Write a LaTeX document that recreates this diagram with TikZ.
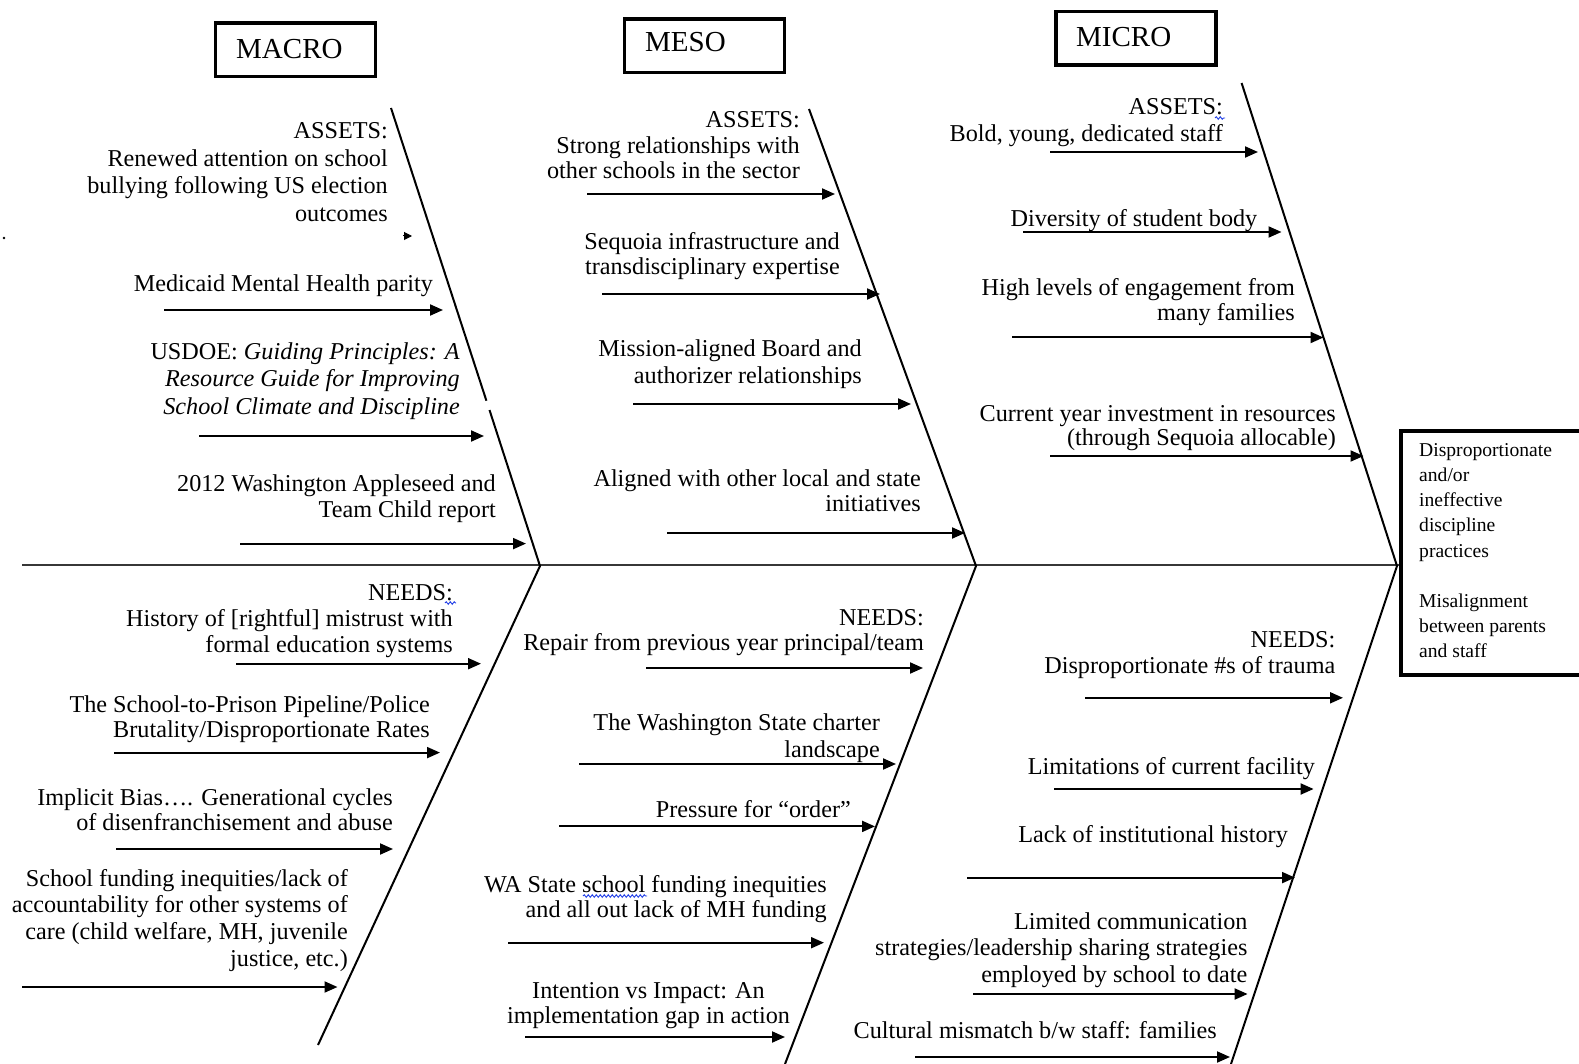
\documentclass[tikz,border=0pt]{standalone}
\usepackage{fontspec}
\setmainfont{Liberation Serif}
\usetikzlibrary{arrows.meta,decorations.pathmorphing}
\definecolor{squiggle}{RGB}{30,60,230}
\definecolor{spinecol}{RGB}{55,55,55}

\begin{document}
\begin{tikzpicture}[x=1pt,y=-1pt,
  % labels are placed by the baseline of their last line
  lbl/.style={font=\fontsize{24.2}{#1}\selectfont, inner sep=0pt, align=right, anchor=base east},
  lbl/.default=26,
  lvlbox/.style={draw, line width=3.5pt, minimum width=160pt, minimum height=53.5pt, inner sep=0pt},
  lvltext/.style={font=\fontsize{29}{34}\selectfont, inner sep=0pt, anchor=base west},
  cause/.style={line width=2pt, -{Triangle[length=13pt,width=11pt]}},
  bone/.style={line width=2pt},
  spine/.style={line width=2.6pt, draw=spinecol},
  wavy/.style={draw=squiggle, line width=0.9pt, decorate,
    decoration={snake, amplitude=1.3pt, segment length=4pt}}
]
\useasboundingbox (0,0) rectangle (1579,1064);
\clip (0,0) rectangle (1579,1064);

% ---------- level headers ----------
\node[lvlbox] (macro) at (295.7,49.6) {};
\node[lvltext] (macrot) at (236,59) {MACRO};
\node[lvlbox] (meso) at (704.5,45.7) {};
\node[lvltext] (mesot) at (645,52) {MESO};
\node[lvlbox] (micro) at (1136,38.5) {};
\node[lvltext] (microt) at (1076,46.4) {MICRO};

% ---------- effect box ----------
\node[draw, line width=4pt, anchor=north west, minimum width=220pt, minimum height=244pt, inner sep=0pt]
  (effect) at (1399,429) {};
\node[font=\fontsize{19.6}{25.2}\selectfont, inner sep=0pt, align=left, anchor=base west]
  (effecttxt) at (1419,657.8)
  {Disproportionate\\and/or\\ineffective\\discipline\\practices\\[25.2pt]Misalignment\\between parents\\and staff};

% ---------- spine ----------
\coordinate (tail) at (22,565);
\draw[spine] (tail) -- (tail -| effect.west);

% ---------- bones ----------
\coordinate (ub1a) at (391,108);   \coordinate (ub1b) at (486.4,400.7);
\coordinate (ub1c) at (489.5,410); \coordinate (j1) at (540,566);
\coordinate (ub2) at (809,109);    \coordinate (j2) at (976,566);
\coordinate (ub3) at (1241.6,83);  \coordinate (j3) at (1397,566);
\coordinate (lb1) at (318,1045);
\coordinate (lb2) at (785,1064);
\coordinate (lb3) at (1231,1064);
\draw[bone] (ub1a) -- (ub1b);
\draw[bone] (ub1c) -- (j1) -- (lb1);
\draw[bone] (ub2) -- (j2) -- (lb2);
\draw[bone] (ub3) -- (j3) -- (lb3);

% ---------- MACRO assets ----------
\node[lbl=27.6] (ma1) at (388,221.4) {ASSETS:\\Renewed attention on school\\bullying following US election\\outcomes};
\coordinate (ma1s) at (403,236); \coordinate (ma1e) at (412,236);
\draw[line width=1pt, -{Triangle[length=8pt,width=8pt]}] (ma1s) -- (ma1e);
\coordinate (dot) at (4,238);
\fill (dot) circle (1.3pt);

\node[lbl] (ma2) at (433,292) {Medicaid Mental Health parity};
\coordinate (ma2s) at (164,310); \coordinate (ma2e) at (443,310);
\draw[cause] (ma2s) -- (ma2e);

\node[lbl=27.5] (ma3) at (460,414) {USDOE: \textit{Guiding Principles: A}\\\textit{Resource Guide for Improving}\\\textit{School Climate and Discipline}};
\coordinate (ma3s) at (199,436); \coordinate (ma3e) at (484,436);
\draw[cause] (ma3s) -- (ma3e);

\node[lbl=26] (ma4) at (496,517) {2012 Washington Appleseed and\\Team Child report};
\coordinate (ma4s) at (240,543.6); \coordinate (ma4e) at (526,543.6);
\draw[cause] (ma4s) -- (ma4e);

% ---------- MESO assets ----------
\node[lbl=25.5] (me1) at (800,179) {ASSETS:\\Strong relationships with\\other schools in the sector};
\coordinate (me1s) at (587,194); \coordinate (me1e) at (835,194);
\draw[cause] (me1s) -- (me1e);

\node[lbl=25] (me2) at (840,275) {Sequoia infrastructure and\\transdisciplinary expertise};
\coordinate (me2s) at (602,294); \coordinate (me2e) at (880,294);
\draw[cause] (me2s) -- (me2e);

\node[lbl=26] (me3) at (862,383) {Mission-aligned Board and\\authorizer relationships};
\coordinate (me3s) at (633,404); \coordinate (me3e) at (911,404);
\draw[cause] (me3s) -- (me3e);

\node[lbl=25] (me4) at (921,511) {Aligned with other local and state\\initiatives};
\coordinate (me4s) at (667,533); \coordinate (me4e) at (965,533);
\draw[cause] (me4s) -- (me4e);

% ---------- MICRO assets ----------
\node[lbl=27] (mi1) at (1223,142) {ASSETS:\\Bold, young, dedicated staff};
\coordinate (sq1a) at (1215,118); \coordinate (sq1b) at (1225,118);
\draw[wavy] (sq1a) -- (sq1b);
\coordinate (mi1s) at (1050,152); \coordinate (mi1e) at (1258,152);
\draw[cause] (mi1s) -- (mi1e);

\node[lbl] (mi2) at (1257.5,227) {Diversity of student body};
\coordinate (mi2s) at (1023,232); \coordinate (mi2e) at (1281.5,232);
\draw[cause] (mi2s) -- (mi2e);

\node[lbl=25] (mi3) at (1295,321) {High levels of engagement from\\many families};
\coordinate (mi3s) at (1012,337.5); \coordinate (mi3e) at (1323.5,337.5);
\draw[cause] (mi3s) -- (mi3e);

\node[lbl=24] (mi4) at (1336,445) {Current year investment in resources\\(through Sequoia allocable)};
\coordinate (mi4s) at (1050,456); \coordinate (mi4e) at (1363.5,456);
\draw[cause] (mi4s) -- (mi4e);

% ---------- MACRO needs ----------
\node[lbl=26] (na1) at (453,652) {NEEDS:\\History of [rightful] mistrust with\\formal education systems};
\coordinate (sq2a) at (445,603); \coordinate (sq2b) at (456,603);
\draw[wavy] (sq2a) -- (sq2b);
\coordinate (na1s) at (236,663.7); \coordinate (na1e) at (481,663.7);
\draw[cause] (na1s) -- (na1e);

\node[lbl=25] (na2) at (430,737) {The School-to-Prison Pipeline/Police\\Brutality/Disproportionate Rates};
\coordinate (na2s) at (114,752.6); \coordinate (na2e) at (440,752.6);
\draw[cause] (na2s) -- (na2e);

\node[lbl=25] (na3) at (393,830.7) {Implicit Bias…. Generational cycles\\of disenfranchisement and abuse};
\coordinate (na3s) at (116,849); \coordinate (na3e) at (393,849);
\draw[cause] (na3s) -- (na3e);

\node[lbl=26.7] (na4) at (348,966.1) {School funding inequities/lack of\\accountability for other systems of\\care (child welfare, MH, juvenile\\justice, etc.)};
\coordinate (na4s) at (22,987); \coordinate (na4e) at (337.5,987);
\draw[cause] (na4s) -- (na4e);

% ---------- MESO needs ----------
\node[lbl=25] (ne1) at (924,650) {NEEDS:\\Repair from previous year principal/team};
\coordinate (ne1s) at (646,668); \coordinate (ne1e) at (923,668);
\draw[cause] (ne1s) -- (ne1e);

\node[lbl=26.5] (ne2) at (880,757) {The Washington State charter\\landscape};
\coordinate (ne2s) at (579,764); \coordinate (ne2e) at (896,764);
\draw[cause] (ne2s) -- (ne2e);

\node[lbl] (ne3) at (851,817) {Pressure for “order”};
\coordinate (ne3s) at (559,826.4); \coordinate (ne3e) at (875,826.4);
\draw[cause] (ne3s) -- (ne3e);

\node[lbl=25] (ne4) at (827,917.6) {WA State school funding inequities\\and all out lack of MH funding};
\coordinate (sq3a) at (583,896); \coordinate (sq3b) at (647,896);
\draw[wavy] (sq3a) -- (sq3b);
\coordinate (ne4s) at (508,942.7); \coordinate (ne4e) at (824,942.7);
\draw[cause] (ne4s) -- (ne4e);

\node[lbl=25, align=center, anchor=base] (ne5) at (648.5,1023) {Intention vs Impact: An\\implementation gap in action};
\coordinate (ne5s) at (525,1037); \coordinate (ne5e) at (785,1037);
\draw[cause] (ne5s) -- (ne5e);

% ---------- MICRO needs ----------
\node[lbl=26] (ni1) at (1335.5,673) {NEEDS:\\Disproportionate \#s of trauma};
\coordinate (ni1s) at (1085,697.8); \coordinate (ni1e) at (1343,697.8);
\draw[cause] (ni1s) -- (ni1e);

\node[lbl] (ni2) at (1315,774) {Limitations of current facility};
\coordinate (ni2s) at (1054,789); \coordinate (ni2e) at (1313.6,789);
\draw[cause] (ni2s) -- (ni2e);

\node[lbl] (ni3) at (1288,842.5) {Lack of institutional history};
\coordinate (ni3s) at (967,877.6); \coordinate (ni3e) at (1295,877.6);
\draw[cause] (ni3s) -- (ni3e);

\node[lbl=26.5] (ni4) at (1247.6,982) {Limited communication\\strategies/leadership sharing strategies\\employed by school to date};
\coordinate (ni4s) at (973,994); \coordinate (ni4e) at (1247.6,994);
\draw[cause] (ni4s) -- (ni4e);

\node[lbl] (ni5) at (1217,1038) {Cultural mismatch b/w staff: families};
\coordinate (ni5s) at (915,1057); \coordinate (ni5e) at (1230,1057);
\draw[cause] (ni5s) -- (ni5e);
\end{tikzpicture}
\end{document}
